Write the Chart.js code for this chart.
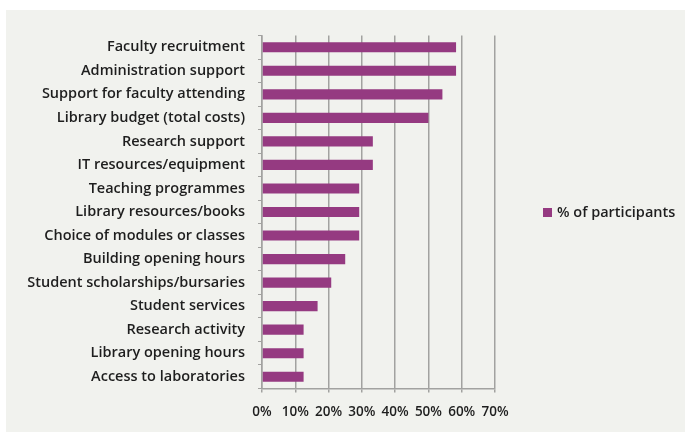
<!DOCTYPE html>
<html>
<head>
<meta charset="utf-8">
<script src="https://cdn.jsdelivr.net/npm/chart.js@4/dist/chart.umd.min.js"></script>
<style>
  html,body{margin:0;padding:0;background:#fff}
  #wrap{position:absolute;left:6px;top:10px;width:679px;height:422px;background:#f1f2ee}
</style>
</head>
<body>
<div id="wrap"><canvas id="c"></canvas></div>
<script>
// categories top to bottom (% of participants)
const categories = [
  "Faculty recruitment", "Administration support", "Support for faculty attending",
  "Library budget (total costs)", "Research support", "IT resources/equipment",
  "Teaching programmes", "Library resources/books", "Choice of modules or classes",
  "Building opening hours", "Student scholarships/bursaries", "Student services",
  "Research activity", "Library opening hours", "Access to laboratories"
];
const participants = [58.3, 58.3, 54.2, 50.0, 33.3, 33.3, 29.2, 29.2, 29.2, 25.0, 20.8, 16.7, 12.5, 12.5, 12.5];
const seriesName = "% of participants";
const xTicks = [0, 10, 20, 30, 40, 50, 60, 70];

const BAR = "#953a81", GRID = "#a2a2a0", INK = "#1e1e1e";
const FONT = "'Open Sans'";

// legend drawn by hand so it sits where the original had it
const sideLegend = {
  id: "sideLegend",
  afterDraw(chart) {
    const { ctx, chartArea } = chart;
    const y = (chartArea.top + chartArea.bottom) / 2 + 1;
    ctx.save();
    ctx.fillStyle = BAR;
    ctx.fillRect(537, y - 5, 9, 9);
    ctx.fillStyle = INK;
    ctx.font = "600 14.5px " + FONT;
    ctx.textBaseline = "middle";
    ctx.fillText(seriesName, 551, y);
    ctx.restore();
  },
};

new Chart(document.getElementById("c"), {
  type: "bar",
  data: {
    labels: categories,
    datasets: [{ label: seriesName, data: participants, backgroundColor: BAR,
                 categoryPercentage: 1, barPercentage: 0.43 }],
  },
  options: {
    indexAxis: "y",
    responsive: true, maintainAspectRatio: false, animation: false,
    layout: { padding: { top: 25.5, right: 190, left: 0, bottom: 0 } },
    plugins: { legend: { display: false }, tooltip: { enabled: false } },
    scales: {
      x: {
        min: 0, max: 70,
        afterBuildTicks: s => { s.ticks = xTicks.map(v => ({ value: v })); },
        afterFit: s => { s.height = 43.5; },
        grid: { color: GRID, lineWidth: 1.5, tickLength: 4 },
        border: { color: GRID, width: 1.5 },
        ticks: { padding: 12, color: INK, font: { family: FONT, size: 13.5, weight: 600 }, callback: v => v + "%" },
      },
      y: {
        afterFit: s => { s.width = 256; },
        grid: { offset: true, drawOnChartArea: false, color: GRID, lineWidth: 1, tickLength: 4 },
        border: { color: GRID, width: 1.5 },
        ticks: { padding: 13, color: INK, font: { family: FONT, size: 14.5, weight: 600 } },
      },
    },
  },
  plugins: [sideLegend],
});
</script>
</body>
</html>
